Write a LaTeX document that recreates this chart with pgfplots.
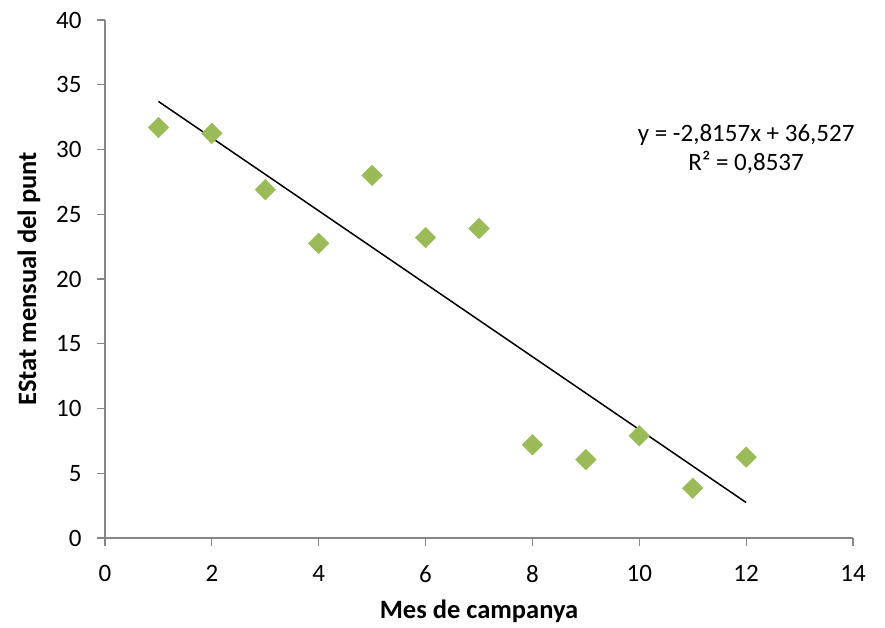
\documentclass[border=0pt]{standalone}
\usepackage{pgfplots}
\pgfplotsset{compat=1.18}
\usepackage{fontspec}
\setmainfont{Carlito}
\definecolor{mk}{HTML}{9BBB59}
\definecolor{ax}{HTML}{868686}
\begin{document}
\begin{tikzpicture}
\begin{axis}[name=ax,
  scale only axis, width=748bp, height=518bp,
  xmin=0, xmax=14, ymin=0, ymax=40,
  xtick={0,2,...,14}, ytick={0,5,...,40},
  axis x line*=bottom, axis y line*=left,
  axis line style={ax, line width=1.2bp, -},
  tick style={ax, line width=1.2bp},
  tick align=outside, major tick length=8bp,
  /pgf/number format/assume math mode=true,
  ticklabel style={font=\fontsize{25bp}{30bp}\selectfont},
  xticklabel style={yshift=-16bp},
  yticklabel style={xshift=-12bp},
  xlabel={\textbf{Mes de campanya}},
  ylabel={\textbf{EStat mensual del punt}},
  label style={font=\fontsize{26.5bp}{31bp}\selectfont},
  xlabel style={yshift=-10bp},
  ylabel style={yshift=9bp},
  clip=false,
]
\addplot[only marks, mark=square*, mark size=7.3bp, mark options={fill=mk, draw=mk, rotate=45}]
coordinates {(1,31.7) (2,31.25) (3,26.9) (4,22.75) (5,28.0) (6,23.2) (7,23.9) (8,7.2) (9,6.05) (10,7.9) (11,3.85) (12,6.25)};
\addplot[black, line width=1.5bp, no marks] coordinates {(1,33.711) (12,2.739)};
\node[align=center, font=\fontsize{25bp}{29bp}\selectfont] at (axis cs:12.0,30.0) {y = -2,8157x + 36,527\\R² = 0,8537};
\end{axis}
\pgfresetboundingbox
\path (ax.south west) ++(-105bp,-90bp) coordinate (a);
\path (ax.north east) ++(32bp,20bp) coordinate (b);
\useasboundingbox (a) rectangle (b);
\end{tikzpicture}
\end{document}
